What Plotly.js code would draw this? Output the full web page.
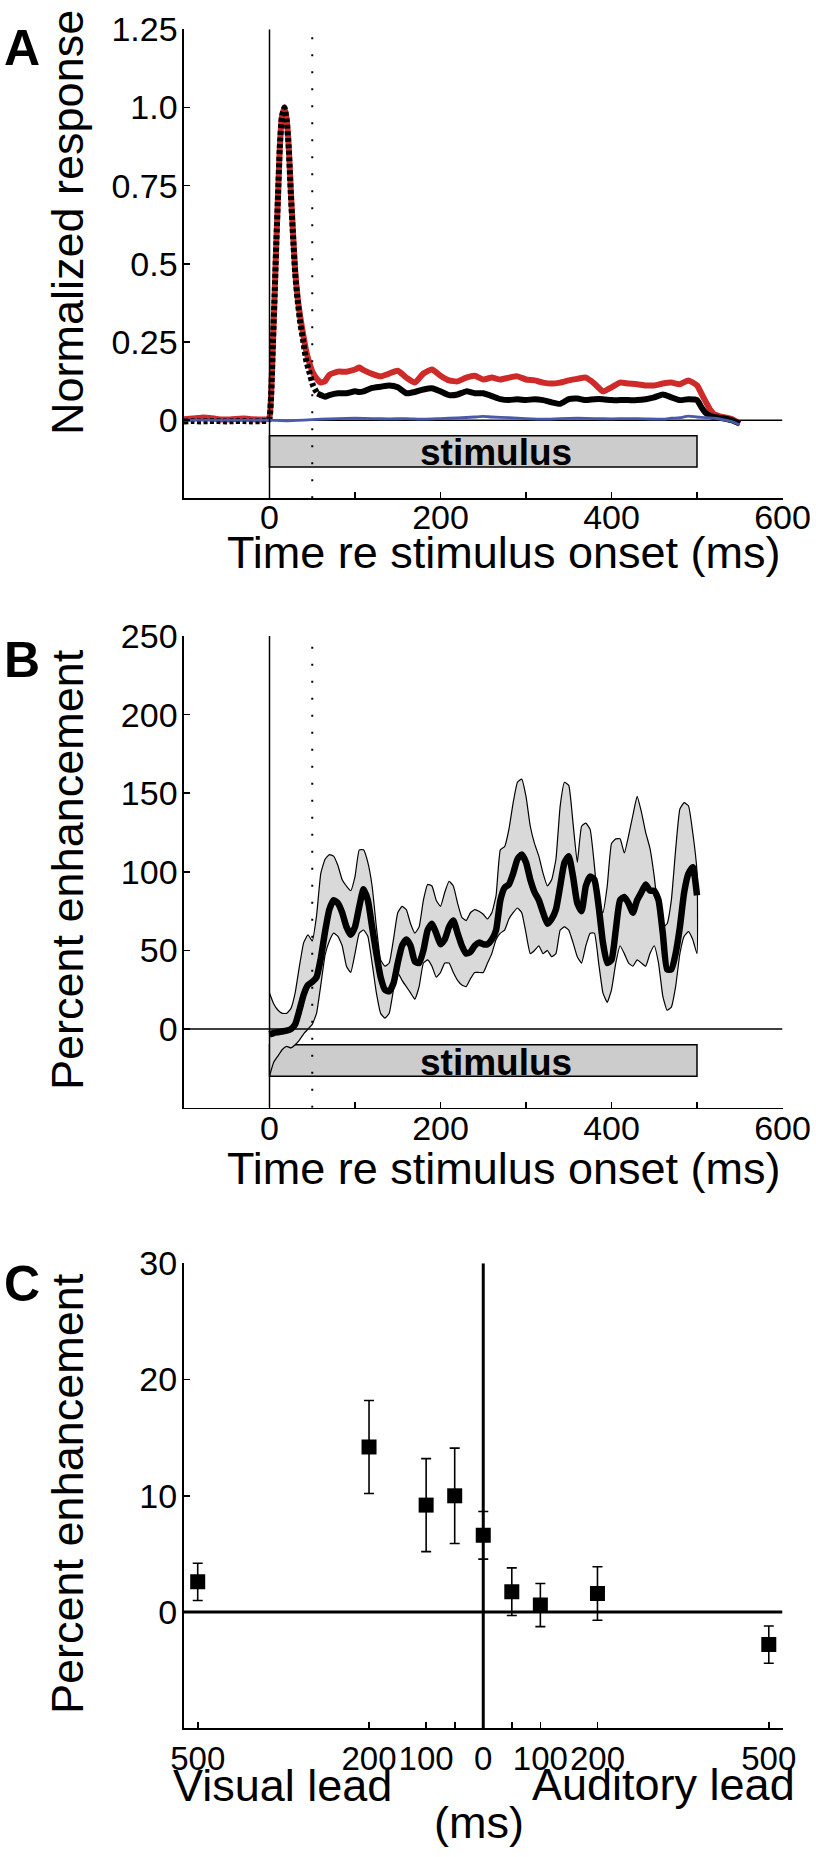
<!DOCTYPE html>
<html>
<head>
<meta charset="utf-8">
<script src="https://cdn.plot.ly/plotly-3.0.1.min.js"></script>
<style>
html,body{margin:0;padding:0;background:#fff;}
#chart{width:816px;height:1857px;}
</style>
</head>
<body>
<div id="chart"></div>
<script>
// ---------- Panel A data ----------
var tA = [-100,-90,-80,-70,-60,-50,-40,-30,-20,-10,-2,0,2,4,6,8,10,12,14.5,17.5,20,22.5,25,27.5,30,33,36,39,43,47,51,56,60,65,70,80,90,100,105,110,120,130,140,150,160,170,180,190,200,210,220,230,240,250,260,270,280,290,300,310,320,330,340,350,360,370,380,390,400,410,420,430,440,450,460,470,480,490,500,505,510,515,520,525,530,540,550];
var redA = [0.003,0.005,0.008,0.007,0.003,0.002,0.004,0.005,0.003,0.002,0.003,0.01,0.085,0.245,0.40,0.57,0.72,0.87,0.97,1.0,0.965,0.875,0.73,0.60,0.48,0.39,0.33,0.28,0.22,0.18,0.15,0.13,0.12,0.125,0.145,0.155,0.155,0.162,0.168,0.16,0.148,0.14,0.149,0.158,0.136,0.12,0.149,0.162,0.142,0.127,0.124,0.136,0.142,0.13,0.136,0.13,0.136,0.14,0.13,0.127,0.12,0.117,0.12,0.127,0.132,0.136,0.117,0.092,0.105,0.12,0.117,0.115,0.111,0.111,0.117,0.12,0.115,0.127,0.111,0.086,0.06,0.035,0.019,0.014,0.01,0.004,-0.011];
var blackA = [-0.004,-0.003,-0.004,-0.003,-0.003,-0.004,-0.003,-0.003,-0.004,-0.003,-0.002,0.005,0.085,0.245,0.40,0.57,0.72,0.87,0.97,1.0,0.96,0.87,0.72,0.59,0.47,0.38,0.31,0.26,0.19,0.15,0.11,0.085,0.08,0.075,0.08,0.086,0.086,0.092,0.09,0.092,0.103,0.107,0.111,0.105,0.086,0.09,0.098,0.102,0.092,0.08,0.082,0.092,0.086,0.086,0.077,0.067,0.064,0.067,0.064,0.067,0.064,0.057,0.052,0.067,0.069,0.064,0.067,0.067,0.064,0.064,0.064,0.064,0.067,0.073,0.082,0.073,0.064,0.067,0.064,0.042,0.023,0.014,0.01,0.008,0.006,0.0,-0.011];
var tBlue = [-100,-80,-60,-40,-20,0,20,40,60,80,100,120,140,160,180,200,220,240,250,260,280,300,320,340,360,380,400,420,440,460,470,480,490,500,510,520,530,540,550];
var blueA = [0,0,0,0,0,0,-0.002,0,0.003,0.005,0.006,0.005,0.004,0.005,0.003,0.005,0.007,0.01,0.012,0.01,0.008,0.005,0.003,0.005,0.006,0.005,0.004,0.005,0.004,0.003,0.006,0.008,0.013,0.01,0.008,0.006,0.002,-0.004,-0.015];
var yTickValsA = [0,0.25,0.5,0.75,1.0,1.25];
var yTickTextA = ['0','0.25','0.5','0.75','1.0','1.25'];

// ---------- Panel B data ----------
var tB = [];
for (var i = 0; i <= 100; i++) { tB.push(i * 5); }
var meanB = [-3.4,-2.5,-2,-1.5,-1,0,3,12,22,28,30,33,45,62,76,82,80,74,65,60,65,78,89,82,65,48,33,25,24,29,42,53,57,53,43,42,50,63,67,61,54,57,65,69,61,53,48,49,53,55,54,54,57,63,82,90,92,99,108,111,106,95,87,82,74,67,70,76,91,106,110,97,80,75,91,97,95,78,55,42,44,63,82,84,80,74,82,87,92,88,88,82,61,38,38,48,65,87,99,103,85];
var upperB = [23,16,12,10,10,13,23,40,55,60,56,72,99,108,111,110,104,95,91,88,97,114,114,106,91,65,44,40,42,57,74,78,76,67,61,65,82,92,91,82,78,87,94,91,80,71,69,74,76,75,73,70,74,85,114,116,127,144,157,159,148,129,118,110,99,91,95,108,142,157,155,131,106,129,131,127,104,78,74,91,118,121,121,112,123,136,148,138,125,115,97,74,65,67,82,114,140,144,142,125,100];
var lowerB = [-30,-21,-17,-13,-11,-12,-10,-7,-3,0,3,10,28,47,56,61,59,53,40,36,48,61,63,59,42,23,10,7,10,25,36,31,27,23,19,27,42,44,40,33,36,42,42,36,31,28,27,32,36,36,36,42,48,57,61,63,70,74,77,74,61,48,50,53,48,50,46,48,63,65,63,55,46,42,53,61,61,42,23,17,25,42,53,48,42,40,44,42,40,48,53,42,21,12,14,27,48,59,62,57,48];
var yTickValsB = [0,50,100,150,200,250];

// shared time-axis ticks (A and B)
var xTickVals = [0,100,200,300,400,500,600];
var xTickText = ['0','','200','','400','','600'];
var stimOn = 0, stimOff = 500, refLine = 50;

// ---------- Panel C data ----------
var soa = [-500,-200,-100,-50,0,50,100,200,500];
var soaLabels = ['500','200','100','','0','','100','200','500'];
var enhC = [2.6,14.2,9.2,10.0,6.6,1.75,0.6,1.6,-2.8];
var errC = [1.6,4.0,4.0,4.1,2.05,2.05,1.85,2.3,1.6];
var yTickValsC = [-10,0,10,20,30];
var yTickTextC = ['','0','10','20','30'];

// ---------- layout helpers ----------
var W = 816, H = 1857;
function px(x){ return x / W; }
function py(y){ return 1 - y / H; }
var FONT = 'Liberation Sans, Arial, Helvetica, sans-serif';
var xDom = [px(184), px(782.5)];

function axisBase(extra){
  var a = {
    showline: true, linecolor: '#000', linewidth: 1.6,
    ticks: 'inside', ticklen: 6, tickwidth: 1.6, tickcolor: '#000',
    showgrid: false, zeroline: false, tickangle: 0,
    tickfont: {family: FONT, size: 34, color: '#000'},
    fixedrange: true
  };
  for (var k in extra) a[k] = extra[k];
  return a;
}

// split the black series into the transient (dashed over red) and sustained part
var peakEnd = 56;
var tPk = [], bPk = [], tSu = [], bSu = [];
for (var j = 0; j < tA.length; j++) {
  if (tA[j] <= peakEnd) { tPk.push(tA[j]); bPk.push(blackA[j]); }
  if (tA[j] >= peakEnd) { tSu.push(tA[j]); bSu.push(blackA[j]); }
}

var traces = [
  // Panel A
  {x: tA, y: redA, xaxis: 'x', yaxis: 'y', mode: 'lines', line: {color: '#cf2a2a', width: 6, shape: 'spline', smoothing: 0.5}},
  {x: tPk, y: bPk, xaxis: 'x', yaxis: 'y', mode: 'lines', line: {color: '#000', width: 6, dash: '4px,2.5px', shape: 'spline', smoothing: 0.5}},
  {x: tSu, y: bSu, xaxis: 'x', yaxis: 'y', mode: 'lines', line: {color: '#000', width: 6, shape: 'spline', smoothing: 0.5}},
  {x: tBlue, y: blueA, xaxis: 'x', yaxis: 'y', mode: 'lines', line: {color: '#4a5aa8', width: 2.8, shape: 'spline', smoothing: 0.5}},
  // Panel B band + mean
  {x: tB.concat(tB.slice().reverse()), y: upperB.concat(lowerB.slice().reverse()), xaxis: 'x2', yaxis: 'y2', mode: 'lines', fill: 'toself', fillcolor: '#d9d9d9', line: {color: '#000', width: 1.2, shape: 'spline', smoothing: 0.4}},
  {x: tB, y: meanB, xaxis: 'x2', yaxis: 'y2', mode: 'lines', line: {color: '#000', width: 6.5, shape: 'spline', smoothing: 0.5}},
  // Panel C
  {x: soa, y: enhC, xaxis: 'x3', yaxis: 'y3', mode: 'markers', marker: {symbol: 'square', size: 15, color: '#000'},
   error_y: {type: 'data', array: errC, visible: true, color: '#000', thickness: 1.6, width: 5}}
];

var shapes = [
  // A
  {type: 'rect', xref: 'x', yref: 'y', x0: stimOn, x1: stimOff, y0: -0.15, y1: -0.05, fillcolor: '#cccccc', line: {color: '#000', width: 1.5}, layer: 'below'},
  {type: 'line', xref: 'x', yref: 'y', x0: 0, x1: 0, y0: -0.25, y1: 1.25, line: {color: '#000', width: 1.5}},
  {type: 'line', xref: 'x', yref: 'y', x0: -100, x1: 600, y0: 0, y1: 0, line: {color: '#000', width: 1.5}, layer: 'below'},
  {type: 'line', xref: 'x', yref: 'y', x0: refLine, x1: refLine, y0: -0.25, y1: 1.25, line: {color: '#000', width: 2, dash: '2px,15px'}},
  // B
  {type: 'rect', xref: 'x2', yref: 'y2', x0: stimOn, x1: stimOff, y0: -30, y1: -10, fillcolor: '#cccccc', line: {color: '#000', width: 1.5}, layer: 'below'},
  {type: 'line', xref: 'x2', yref: 'y2', x0: 0, x1: 0, y0: -50, y1: 250, line: {color: '#000', width: 1.5}},
  {type: 'line', xref: 'x2', yref: 'y2', x0: -100, x1: 600, y0: 0, y1: 0, line: {color: '#000', width: 1.5}},
  {type: 'line', xref: 'x2', yref: 'y2', x0: refLine, x1: refLine, y0: -50, y1: 250, line: {color: '#000', width: 2, dash: '2px,15px'}},
  // C
  {type: 'line', xref: 'x3', yref: 'y3', x0: 0, x1: 0, y0: -10, y1: 30, line: {color: '#000', width: 3}, layer: 'below'},
  {type: 'line', xref: 'x3', yref: 'y3', x0: -524, x1: 524, y0: 0, y1: 0, line: {color: '#000', width: 3}, layer: 'below'}
];

function ann(text, x, y, size, opts){
  var a = {text: text, x: x, y: y, xref: 'paper', yref: 'paper', showarrow: false,
           xanchor: 'center', yanchor: 'middle', font: {family: FONT, size: size, color: '#000'}};
  for (var k in opts) a[k] = opts[k];
  return a;
}

var annotations = [
  ann('<b>A</b>', px(2), py(48), 50, {xanchor: 'left'}),
  ann('<b>B</b>', px(2), py(660), 50, {xanchor: 'left'}),
  ann('<b>C</b>', px(2), py(1284), 50, {xanchor: 'left'}),
  ann('Normalized response', px(67), py(223), 45, {textangle: -90}),
  ann('Percent enhancement', px(67), py(870), 45, {textangle: -90}),
  ann('Percent enhancement', px(67), py(1494), 45, {textangle: -90}),
  ann('Time re stimulus onset (ms)', px(503), py(552), 45),
  ann('Time re stimulus onset (ms)', px(503), py(1168), 45),
  ann('Visual lead', px(171), py(1785), 45, {xanchor: 'left'}),
  ann('Auditory lead', px(797), py(1784), 45, {xanchor: 'right'}),
  ann('(ms)', px(479), py(1822), 45),
  {text: '<b>stimulus</b>', x: 265, y: -0.105, xref: 'x', yref: 'y', showarrow: false, font: {family: FONT, size: 37, color: '#000'}},
  {text: '<b>stimulus</b>', x: 265, y: -21, xref: 'x2', yref: 'y2', showarrow: false, font: {family: FONT, size: 37, color: '#000'}}
];

var layout = {
  width: W, height: H,
  margin: {l: 0, r: 0, t: 0, b: 0, pad: 0},
  paper_bgcolor: '#fff', plot_bgcolor: '#fff',
  showlegend: false, hovermode: false,
  xaxis: axisBase({domain: xDom, anchor: 'y', range: [-100, 600], tickmode: 'array', tickvals: xTickVals, ticktext: xTickText, ticklabelstandoff: -12}),
  yaxis: axisBase({domain: [py(498.3), py(29.3)], anchor: 'x', range: [-0.25, 1.25], tickmode: 'array', tickvals: yTickValsA, ticktext: yTickTextA, ticklabelstandoff: -2}),
  xaxis2: axisBase({domain: xDom, anchor: 'y2', range: [-100, 600], tickmode: 'array', tickvals: xTickVals, ticktext: xTickText, ticklabelstandoff: -10}),
  yaxis2: axisBase({domain: [py(1107.7), py(636)], anchor: 'x2', range: [-50, 250], tickmode: 'array', tickvals: yTickValsB, ticklabelstandoff: -2}),
  xaxis3: axisBase({domain: xDom, anchor: 'y3', range: [-524, 524], tickmode: 'array', tickvals: soa, ticktext: soaLabels, linewidth: 2, ticklabelstandoff: 0, tickfont: {family: FONT, size: 33, color: '#000'}}),
  yaxis3: axisBase({domain: [py(1728.3), py(1263.3)], anchor: 'x3', range: [-10, 30], tickmode: 'array', tickvals: yTickValsC, ticktext: yTickTextC, linewidth: 2, ticklabelstandoff: -2}),
  shapes: shapes,
  annotations: annotations
};

Plotly.newPlot('chart', traces, layout, {staticPlot: true, displayModeBar: false});
</script>
</body>
</html>
